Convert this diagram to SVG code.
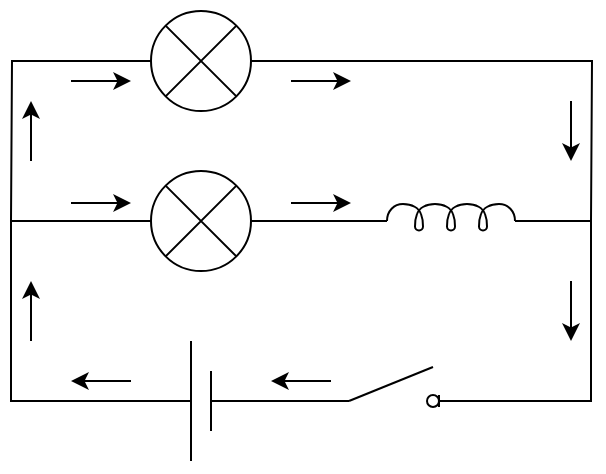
<svg xmlns="http://www.w3.org/2000/svg" width="606" height="474" viewBox="0 0 606 474">
<style>
.w{fill:none;stroke:#000;stroke-width:2;stroke-miterlimit:10}
.a{fill:none;stroke:#000;stroke-width:2;marker-end:url(#h)}
.n{fill:#fff;stroke:#000;stroke-width:2}
</style>
<defs>
<marker id="h" markerUnits="userSpaceOnUse" markerWidth="20" markerHeight="20" refX="5" refY="10" orient="auto" overflow="visible">
<path d="M0 1L18 10L0 19L4.500 10Z" fill="#000"/>
</marker>
</defs>
<g id="connectors">
<path class="w" d="M151 61H12L11 221"/>
<path class="w" d="M251 61H592L591 221"/>
<path class="w" d="M151 221H11V401H191"/>
<path class="w" d="M251 221H387"/>
<path class="w" d="M515 221H591V401H439"/>
<path class="w" d="M211 401H349"/>
</g>
<g id="arrows">
<path class="a" d="M71 81H118"/>
<path class="a" d="M291 81H338"/>
<path class="a" d="M71 203H118"/>
<path class="a" d="M291 203H338"/>
<path class="a" d="M31 161V114"/>
<path class="a" d="M31 341V294"/>
<path class="a" d="M571 101V148"/>
<path class="a" d="M571 281V328"/>
<path class="a" d="M131 381H84"/>
<path class="a" d="M331 381H284"/>
</g>
<g id="lamp1">
<circle class="n" cx="201" cy="61" r="50"/>
<path class="w" d="M165.600 25.600L236.400 96.400M236.400 25.600L165.600 96.400"/>
</g>
<g id="lamp2">
<circle class="n" cx="201" cy="221" r="50"/>
<path class="w" d="M165.600 185.600L236.400 256.400M236.400 185.600L165.600 256.400"/>
</g>
<g id="inductor">
<path class="w" d="M387 221C387 211 394 204 403 204C412 204 419 208 421 214C423 219 423 222 423 226.500A4 4 0 0 1 415 226.500C415 222 415 219 417 214C419 208 426 204 435 204C444 204 451 208 453 214C455 219 455 222 455 226.500A4 4 0 0 1 447 226.500C447 222 447 219 449 214C451 208 458 204 467 204C476 204 483 208 485 214C487 219 487 222 487 226.500A4 4 0 0 1 479 226.500C479 222 479 219 481 214C483 208 490 204 499 204C508 204 515 211 515 221"/>
</g>
<g id="battery">
<path class="w" d="M191 341V461M211 371V431"/>
</g>
<g id="switch">
<path class="w" d="M349 401L433 367"/>
<circle class="w" cx="433" cy="401" r="6"/>
<path class="w" d="M439 395V407"/>
</g>
</svg>
